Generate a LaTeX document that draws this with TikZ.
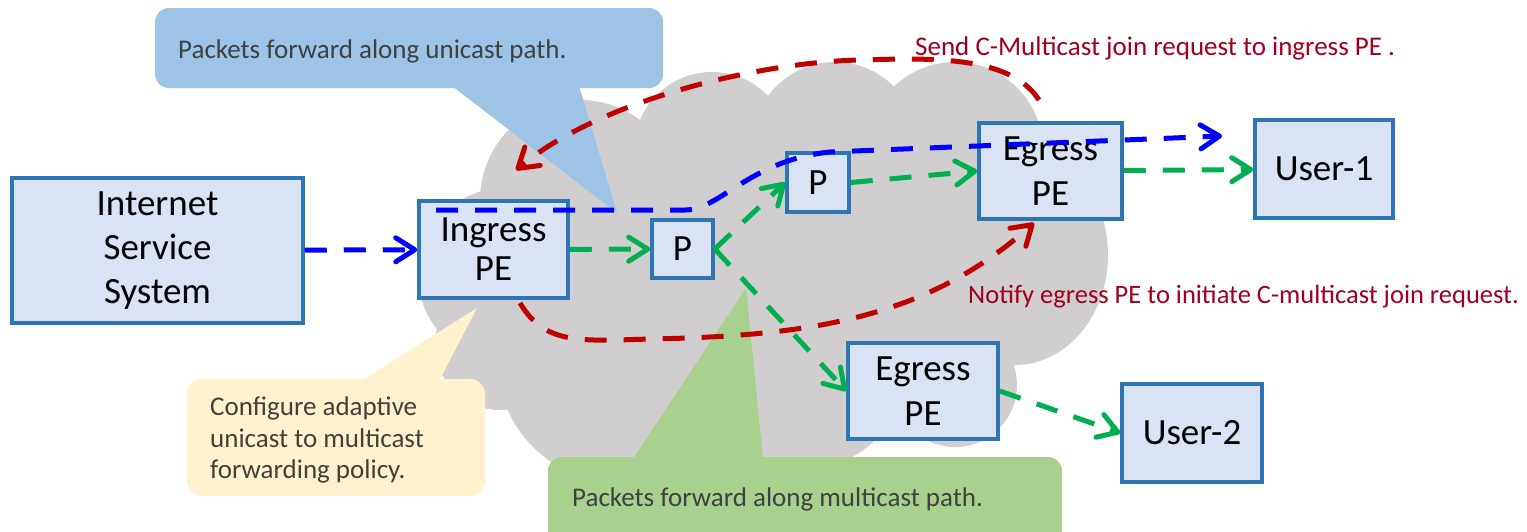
\documentclass[tikz,border=0pt]{standalone}
\usepackage{fontspec}
\setmainfont{Carlito}
\usetikzlibrary{arrows.meta}
\definecolor{cloudgray}{RGB}{208,206,206}
\definecolor{boxfill}{RGB}{218,227,243}
\definecolor{boxline}{RGB}{46,117,182}
\definecolor{calblue}{RGB}{157,195,230}
\definecolor{calyellow}{RGB}{255,242,204}
\definecolor{calgreen}{RGB}{169,209,142}
\definecolor{txtgray}{RGB}{64,64,64}
\definecolor{redtxt}{RGB}{160,0,30}
\definecolor{arrred}{RGB}{192,0,0}
\definecolor{arrblue}{RGB}{0,0,255}
\definecolor{arrgreen}{RGB}{0,176,80}
\begin{document}
\begin{tikzpicture}[x=1pt,y=-1pt,
  netbox/.style={draw=boxline,fill=boxfill,line width=3.5pt,inner sep=0pt,align=center,font=\fontsize{37}{44}\selectfont},
  flow/.style={line width=5pt,dash pattern=on 22pt off 17pt,-{Straight Barb[length=19pt,width=24pt,round]}},
  calltext/.style={inner sep=0pt,text=txtgray,font=\fontsize{27}{31.5}\selectfont},
  redtext/.style={inner sep=0pt,text=redtxt,font=\fontsize{27}{31.5}\selectfont}]
\useasboundingbox (0,0) rectangle (1527,531);
% cloud
\fill[cloudgray] (580,200) circle[radius=100];
\fill[cloudgray] (505,275) circle[radius=87];
\fill[cloudgray] (500,345) circle[radius=65];
\fill[cloudgray] (620,360) circle[radius=123];
\fill[cloudgray] (800,360) circle[radius=110];
\fill[cloudgray] (955,385) circle[radius=62];
\fill[cloudgray] (712,150) circle[radius=78];
\fill[cloudgray] (835,145) circle[radius=83];
\fill[cloudgray] (955,150) circle[radius=88];
\fill[cloudgray] (1015,255) ellipse[x radius=93,y radius=110];
\fill[cloudgray] (500,160) -- (1040,160) -- (1040,340) -- (1000,380) -- (920,420) -- (560,430) -- (500,380) -- cycle;
% callouts
\fill[calblue,rounded corners=14pt] (155,8) rectangle (663,88);
\fill[calblue] (452,86) -- (617,213) -- (579,86) -- cycle;
\node[calltext,anchor=base west] (tb) at (178,58) {Packets forward along unicast path.};
\fill[calyellow,rounded corners=15pt] (187,379) rectangle (485,496);
\fill[calyellow] (361,381) -- (477,308) -- (439,381) -- cycle;
\node[calltext,anchor=west,align=left] (ty) at (210,440) {Configure adaptive\\unicast to multicast\\forwarding policy.};
\fill[calgreen,rounded corners=14pt] (548,457) rectangle (1062,560);
\fill[calgreen] (633,459) -- (746,288) -- (763,459) -- cycle;
\node[calltext,anchor=base west] (tg) at (572,506) {Packets forward along multicast path.};
% boxes
\node[netbox,minimum width=291pt,minimum height=145pt] (iss) at (157.5,250.5) {Internet\\Service\\System};
\node[netbox,minimum width=149pt,minimum height=97pt,font=\fontsize{37}{39}\selectfont] (ing) at (493.5,249.5) {Ingress\\PE};
\node[netbox,minimum width=61pt,minimum height=58pt] (p1) at (682.5,249) {P};
\node[netbox,minimum width=62pt,minimum height=59pt] (p2) at (818,182.5) {P};
\node[netbox,minimum width=143pt,minimum height=96pt,font=\fontsize{37}{45}\selectfont] (ep1) at (1050.5,171) {Egress\\PE};
\node[netbox,minimum width=138pt,minimum height=98pt] (user1) at (1324,169) {User-1};
\node[netbox,minimum width=150pt,minimum height=96pt,font=\fontsize{37}{45}\selectfont] (ep2) at (923,391) {Egress\\PE};
\node[netbox,minimum width=140pt,minimum height=98pt] (user2) at (1192,433) {User-2};
% connectors
\coordinate (bs) at (436,210);
\coordinate (be) at (1222,136);
\coordinate (rts) at (1039,100);
\coordinate (rte) at (516,170);
\coordinate (rbs) at (520,303);
\coordinate (rbe) at (1034,223);
\draw[flow,arrblue] (iss) -- (ing);
\draw[flow,arrblue] (bs) -- (685,210) .. controls (720,210) and (750,160) .. (830,152) -- (be);
\draw[flow,arrgreen] (ing) -- (p1);
\draw[flow,arrgreen] (p1.east) -- (p2.west);
\draw[flow,arrgreen] (p1.east) -- (ep2.west);
\draw[flow,arrgreen] (p2.east) -- (ep1.west);
\draw[flow,arrgreen] (ep1) -- (user1);
\draw[flow,arrgreen] (ep2.east) -- (user2.west);
\draw[flow,arrred] (rts) .. controls (1010,55) and (930,58) .. (860,60) .. controls (760,62) and (600,100) .. (rte);
\draw[flow,arrred] (rbs) .. controls (545,345) and (580,341) .. (650,339) .. controls (820,336) and (930,315) .. (rbe);
% red labels
\node[redtext,anchor=base west] (lsend) at (915,55) {Send C-Multicast join request to ingress PE .};
\node[redtext,anchor=base west,font=\fontsize{26.5}{31.5}\selectfont] (lnote) at (968,303) {Notify egress PE to initiate C-multicast join request.};
\end{tikzpicture}
\end{document}
